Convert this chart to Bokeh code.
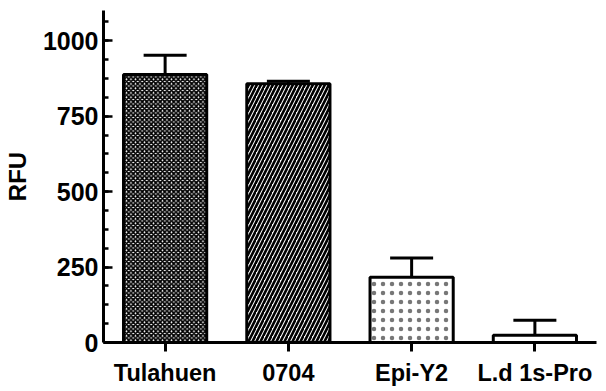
from bokeh.plotting import figure
from bokeh.models import ColumnDataSource, FactorRange, Range1d, FixedTicker
from bokeh.embed import file_html
from bokeh.resources import INLINE

categories = ["Tulahuen", "0704", "Epi-Y2", "L.d 1s-Pro"]
rfu_mean = [888, 857, 216, 24]
rfu_err = [64, 9, 64, 50]
hatch_patterns = ["diagonal_cross", "right_diagonal_line", "dot", "blank"]
hatch_scales = [4.5, 8, 9, 6]
hatch_weights = [1.8, 2.6, 0.5, 1.0]
hatch_colors = ["black", "black", "#777777", "black"]
y_major_ticks = [0, 250, 500, 750, 1000]
y_minor_ticks = [62.5 * k for k in range(0, 18)]

upper = [m + e for m, e in zip(rfu_mean, rfu_err)]
src = ColumnDataSource(dict(x=categories, top=rfu_mean, upper=upper,
                            hp=hatch_patterns, hs=hatch_scales, hw=hatch_weights, hc=hatch_colors))

p = figure(x_range=FactorRange(factors=categories), y_range=Range1d(0, 1100),
           width=606, height=391, output_backend="svg", toolbar_location=None,
           min_border_left=103, min_border_right=10, min_border_top=10, min_border_bottom=49)
p.outline_line_color = None
p.grid.grid_line_color = None
p.background_fill_color = "white"

p.vbar(x="x", top="top", bottom=0, width=0.675, source=src,
       fill_color="white", line_color="black", line_width=3,
       hatch_pattern="hp", hatch_scale="hs", hatch_weight="hw", hatch_color="hc")
p.segment(x0="x", y0="top", x1="x", y1="upper", source=src, line_color="black", line_width=3)
p.scatter(x="x", y="upper", marker="dash", size=43, source=src, line_color="black", line_width=3)

font = "Liberation Sans"
ya = p.yaxis[0]
ya.ticker = FixedTicker(ticks=y_major_ticks, minor_ticks=y_minor_ticks)
ya.axis_label = "RFU"
ya.axis_label_text_font = font
ya.axis_label_text_font_style = "bold"
ya.axis_label_text_font_size = "24px"
ya.axis_label_text_color = "black"
ya.axis_label_standoff = 9
ya.major_label_text_font = font
ya.major_label_text_font_style = "bold"
ya.major_label_text_font_size = "25px"
ya.major_label_text_color = "black"
ya.major_label_standoff = 5
ya.axis_line_width = 3
ya.major_tick_in = 9
ya.major_tick_out = 0
ya.minor_tick_in = 5
ya.minor_tick_out = 0
ya.major_tick_line_width = 2.5
ya.minor_tick_line_width = 2.5

xa = p.xaxis[0]
xa.major_label_text_font = font
xa.major_label_text_font_style = "bold"
xa.major_label_text_font_size = "23.5px"
xa.major_label_text_color = "black"
xa.major_label_standoff = 8
xa.axis_line_width = 3
xa.major_tick_in = 0
xa.major_tick_out = 9
xa.major_tick_line_width = 3
xa.minor_tick_line_color = None

open("out.html", "w").write(file_html(p, INLINE))
